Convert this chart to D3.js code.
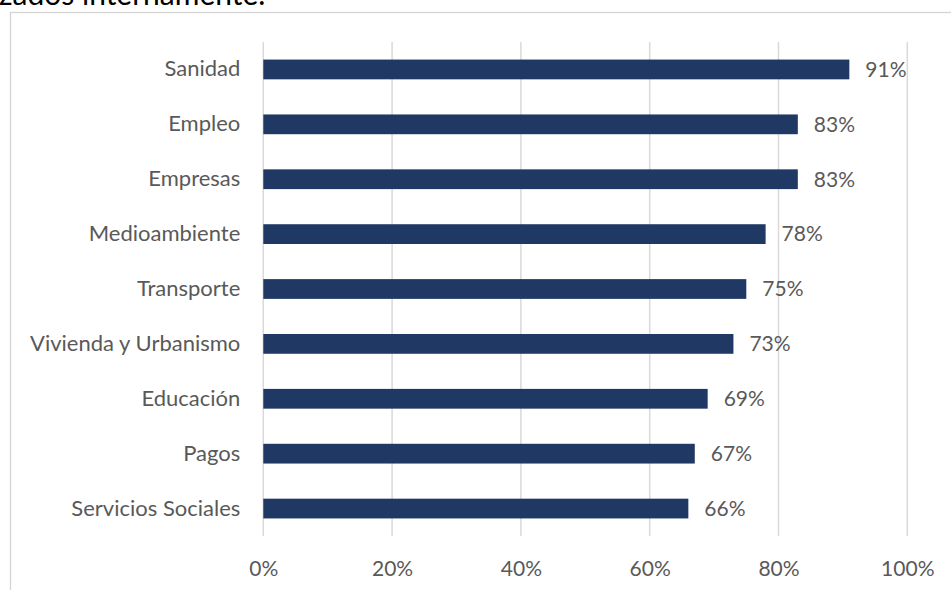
<!DOCTYPE html>
<html>
<head>
<meta charset="utf-8">
<script src="https://cdn.jsdelivr.net/npm/d3@7"></script>
<style>
  html, body { margin: 0; padding: 0; background: #fff; }
  svg { display: block; }
</style>
</head>
<body>
<svg id="chart" width="951" height="590"></svg>
<script>
// Share of services per area
const categories = [
  "Sanidad", "Empleo", "Empresas", "Medioambiente", "Transporte",
  "Vivienda y Urbanismo", "Educación", "Pagos", "Servicios Sociales"
];
const values = [0.91, 0.83, 0.83, 0.78, 0.75, 0.73, 0.69, 0.67, 0.66];
const tickValues = [0, 0.2, 0.4, 0.6, 0.8, 1.0];
const titleText = "zados internamente.";

const FONT = "Lato, 'Open Sans', sans-serif";
const TEXT = "#595959";
const BAR = "#203864";
const GRID = "#d9d9d9";

const svg = d3.select("#chart");

svg.append("rect").attr("width", 951).attr("height", 590).attr("fill", "#fff");

// Paragraph text above the chart
svg.append("text")
  .attr("x", -1).attr("y", 5)
  .attr("font-family", FONT).attr("font-size", 30)
  .attr("fill", "#000")
  .text(titleText);

// Chart area border
svg.append("rect")
  .attr("x", 10.5).attr("y", 12.5)
  .attr("width", 960).attr("height", 600)
  .attr("fill", "none").attr("stroke", "#d4d4d4").attr("stroke-width", 1.3);

const x = d3.scaleLinear().domain([0, 1]).range([263.3, 907.3]);
const y = d3.scaleBand().domain(categories).range([42, 536])
  .paddingInner(0.64).paddingOuter(0.32);

// Vertical gridlines
svg.append("g")
  .selectAll("line").data(tickValues).join("line")
  .attr("x1", d => x(d)).attr("x2", d => x(d))
  .attr("y1", 42).attr("y2", 536)
  .attr("stroke", GRID).attr("stroke-width", 1.5);

// Bottom axis labels
const xAxis = d3.axisBottom(x).tickValues(tickValues)
  .tickFormat(d3.format(".0%")).tickSize(0).tickPadding(0);
const gx = svg.append("g").attr("transform", "translate(0,556)").call(xAxis);
gx.select(".domain").remove();
gx.selectAll("text")
  .attr("font-family", FONT).attr("font-size", 21)
  .attr("fill", TEXT).attr("dy", "0.95em");

// Category labels
const yAxis = d3.axisLeft(y).tickSize(0).tickPadding(23);
const gy = svg.append("g").attr("transform", `translate(${x(0)},0)`).call(yAxis);
gy.select(".domain").remove();
gy.selectAll("text")
  .attr("font-family", FONT).attr("font-size", 22)
  .attr("fill", TEXT);

// Bars
svg.append("g")
  .selectAll("rect").data(categories).join("rect")
  .attr("x", x(0))
  .attr("y", d => y(d))
  .attr("width", (d, i) => x(values[i]) - x(0))
  .attr("height", y.bandwidth())
  .attr("fill", BAR);

// Value labels
svg.append("g")
  .selectAll("text").data(categories).join("text")
  .attr("x", (d, i) => x(values[i]) + 16)
  .attr("y", d => y(d) + y.bandwidth() / 2)
  .attr("dy", "0.35em")
  .attr("font-family", FONT).attr("font-size", 21)
  .attr("fill", TEXT)
  .text((d, i) => d3.format(".0%")(values[i]));
</script>
</body>
</html>
